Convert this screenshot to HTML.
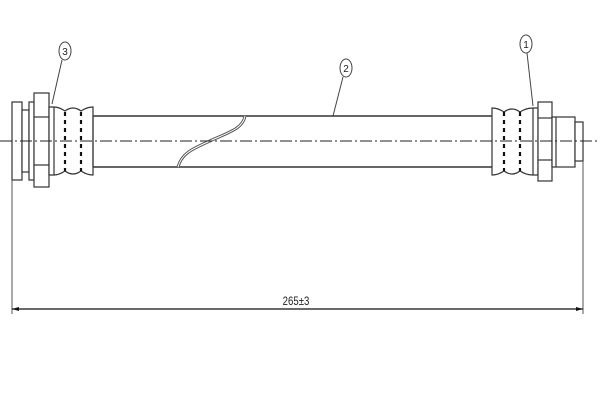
<!DOCTYPE html>
<html><head><meta charset="utf-8"><style>html,body{margin:0;padding:0;background:#fff}svg{display:block}</style></head>
<body>
<svg width="600" height="400" viewBox="0 0 600 400" xmlns="http://www.w3.org/2000/svg">
<rect width="600" height="400" fill="#fff"/>
<g fill="#fff" stroke="#333" stroke-width="1.2">
<!-- tube -->
<line x1="93" y1="116" x2="492" y2="116" stroke-width="1.6"/>
<line x1="93" y1="167" x2="492" y2="167" stroke-width="1.6"/>
<!-- left fitting -->
<rect x="12" y="102" width="10" height="78"/>
<rect x="22" y="110" width="7" height="62"/>
<rect x="29" y="102" width="5" height="78"/>
<rect x="34" y="93" width="15" height="94"/>
<line x1="34" y1="117" x2="49" y2="117"/>
<line x1="34" y1="165" x2="49" y2="165"/>
<path d="M49 107 L54 107 Q59 107 65 111 Q73 105 81 111 Q87 107 93 107 L93 175 Q87 175 81 171 Q73 177 65 171 Q59 175 54 175 L49 175 Z"/>
<line x1="54" y1="107" x2="54" y2="175"/>
<line x1="93" y1="116" x2="93" y2="167"/>
<!-- right fitting -->
<path d="M492 108 Q498 108 504 112 Q512 106 520 112 Q526 108 533 108 L538 108 L538 175 L533 175 Q526 175 520 171 Q512 177 504 171 Q498 175 492 175 Z"/>
<line x1="533" y1="108" x2="533" y2="175"/>
<rect x="538" y="102" width="14" height="79"/>
<line x1="538" y1="118" x2="552" y2="118"/>
<line x1="538" y1="160" x2="552" y2="160"/>
<rect x="552" y="117" width="23" height="50"/>
<line x1="556" y1="117" x2="556" y2="167"/>
<rect x="575" y="122" width="8" height="39"/>
</g>
<!-- dashed ferrule lines -->
<g stroke="#111" stroke-width="2.2" stroke-dasharray="4,4">
<line x1="65" y1="112" x2="65" y2="171"/><line x1="81" y1="112" x2="81" y2="171"/>
<line x1="504" y1="112" x2="504" y2="171"/><line x1="520" y1="112" x2="520" y2="171"/>
</g>
<!-- break -->
<path d="M245 116 C243 128 230 132 212 140 C195 148 182 152 178 167" fill="none" stroke="#555" stroke-width="3"/>
<path d="M245 116 C243 128 230 132 212 140 C195 148 182 152 178 167" fill="none" stroke="#fff" stroke-width="1"/>
<!-- centerline -->
<line x1="0" y1="141" x2="600" y2="141" stroke="#222" stroke-width="1" stroke-dasharray="12,3,2,3"/>
<!-- balloons -->
<g fill="#fff" stroke="#444" stroke-width="1">
<ellipse cx="65" cy="51" rx="6" ry="9"/><line x1="62" y1="60" x2="52" y2="104"/>
<ellipse cx="346" cy="68" rx="6" ry="9"/><line x1="343" y1="77" x2="333" y2="116"/>
<ellipse cx="526" cy="44" rx="6" ry="9"/><line x1="527" y1="53" x2="533" y2="106"/>
</g>
<g font-family="Liberation Sans, sans-serif" font-size="10" fill="#222" text-anchor="middle">
<text x="65" y="55">3</text><text x="346" y="72">2</text><text x="526" y="48">1</text>
<text x="296" y="305" font-size="12" transform="translate(296 0) scale(0.8 1) translate(-296 0)">265±3</text>
</g>
<!-- dimension -->
<g stroke="#555" stroke-width="1">
<line x1="12" y1="180" x2="12" y2="314"/>
<line x1="583" y1="161" x2="583" y2="314"/>
</g>
<line x1="12" y1="309" x2="583" y2="309" stroke="#111" stroke-width="1.2"/>
<path d="M12 309 l7 -2 v4 z M583 309 l-7 -2 v4 z" fill="#111"/>
</svg>
</body></html>
